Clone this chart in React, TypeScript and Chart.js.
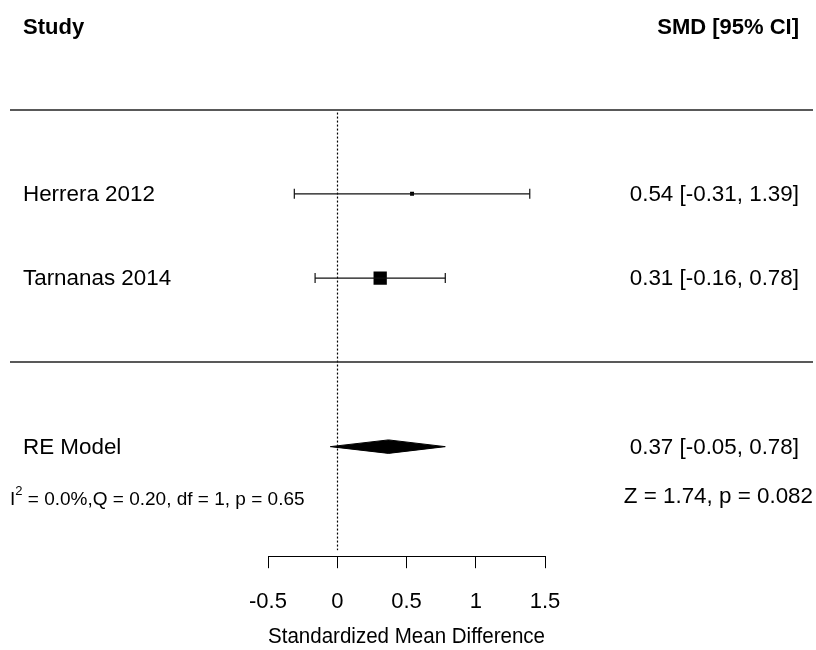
import { useEffect, useRef } from 'react';
import { Chart, registerables } from 'chart.js';

Chart.register(...registerables);

// ---- data ----
const studies = ['Herrera 2012', 'Tarnanas 2014'];
const estimates = [0.54, 0.31];
const lowers = [-0.31, -0.16];
const uppers = [1.39, 0.78];
const studyRows = [2, 1];

const pooledLabel = 'RE Model';
const pooledEstimate = 0.37;
const pooledLower = -0.05;
const pooledUpper = 0.78;
const pooledRow = -1;

const hetI2 = '0.0%';
const hetQ = '0.20';
const hetDf = '1';
const hetP = '0.65';
const zText = 'Z = 1.74, p = 0.082';

const xTicks = [-0.5, 0, 0.5, 1, 1.5];
const xTitle = 'Standardized Mean Difference';
const headerLeft = 'Study';
const headerRight = 'SMD [95% CI]';

// ---- style ----
const FONT = '"Liberation Sans", Arial, Helvetica, sans-serif';
const squareRadius = [2.8, 9.4];
const diamondHalf = 0.08; // in row units
const headerRow = 4;
const topLineRow = 3;
const sepRow = 0;
const hetRow = -1.63;

const fmt = (v: number) => v.toFixed(2);

const forestPlugin = {
  id: 'forestDecor',
  beforeDatasetsDraw(chart: any) {
    const { ctx, scales } = chart;
    const x0 = scales.x.getPixelForValue(0);
    const yTop = scales.y.getPixelForValue(topLineRow) + 3;
    const yBot = chart.chartArea.bottom - 6;
    ctx.save();
    ctx.strokeStyle = '#000';
    ctx.lineWidth = 1.2;
    ctx.setLineDash([2, 2]);
    ctx.beginPath();
    ctx.moveTo(Math.round(x0) + 0.5, yTop);
    ctx.lineTo(Math.round(x0) + 0.5, yBot);
    ctx.stroke();
    ctx.restore();
  },
  afterDraw(chart: any) {
    const { ctx, scales, width } = chart;
    const y = (r: number) => scales.y.getPixelForValue(r);
    ctx.save();
    // separators
    ctx.strokeStyle = '#222';
    ctx.lineWidth = 1.5;
    [topLineRow, sepRow].forEach((r) => {
      const py = Math.round(y(r));
      ctx.beginPath();
      ctx.moveTo(10, py);
      ctx.lineTo(width - 3, py);
      ctx.stroke();
    });
    ctx.fillStyle = '#000';
    ctx.textBaseline = 'middle';
    // headers
    ctx.font = `bold 22px ${FONT}`;
    ctx.textAlign = 'left';
    ctx.fillText(headerLeft, 23, y(headerRow) + 3);
    ctx.textAlign = 'right';
    ctx.fillText(headerRight, 799, y(headerRow) + 3);
    // study rows
    ctx.font = `22.4px ${FONT}`;
    studies.forEach((s, i) => {
      ctx.textAlign = 'left';
      ctx.fillText(s, 23, y(studyRows[i]) + 1);
      ctx.textAlign = 'right';
      ctx.fillText(`${fmt(estimates[i])} [${fmt(lowers[i])}, ${fmt(uppers[i])}]`, 799, y(studyRows[i]) + 1);
    });
    // pooled
    ctx.textAlign = 'left';
    ctx.fillText(pooledLabel, 23, y(pooledRow) + 1);
    ctx.textAlign = 'right';
    ctx.fillText(`${fmt(pooledEstimate)} [${fmt(pooledLower)}, ${fmt(pooledUpper)}]`, 799, y(pooledRow) + 1);
    ctx.fillText(zText, 813, y(hetRow) - 3);
    // heterogeneity
    ctx.textAlign = 'left';
    ctx.font = `19px ${FONT}`;
    const hy = y(hetRow);
    ctx.fillText('I', 10, hy);
    const iw = ctx.measureText('I').width;
    ctx.font = `13px ${FONT}`;
    ctx.fillText('2', 10 + iw, hy - 8);
    const sw = ctx.measureText('2').width;
    ctx.font = `19px ${FONT}`;
    ctx.fillText(` = ${hetI2},Q = ${hetQ}, df = ${hetDf}, p = ${hetP}`, 10 + iw + sw, hy);
    ctx.restore();
  },
};

export default function App() {
  const ref = useRef<HTMLCanvasElement>(null);
  useEffect(() => {
    if (!ref.current) return;
    Chart.defaults.font.family = FONT;
    const ciSets = studies.map((s, i) => ({
      label: s + ' CI',
      data: [
        { x: lowers[i], y: studyRows[i] },
        { x: uppers[i], y: studyRows[i] },
      ],
      showLine: true,
      borderColor: '#111',
      borderWidth: 1.2,
      pointStyle: 'line',
      rotation: 90,
      pointRadius: 5,
      pointBorderColor: '#111',
      pointBorderWidth: 1.2,
    }));
    const pointsSet = {
      label: 'estimates',
      data: estimates.map((e, i) => ({ x: e, y: studyRows[i] })),
      pointStyle: 'rect',
      pointRadius: squareRadius,
      backgroundColor: '#000',
      borderColor: '#000',
      pointBorderWidth: 0,
    };
    const diamondSet = {
      label: 'pooled',
      data: [
        { x: pooledLower, y: pooledRow },
        { x: pooledEstimate, y: pooledRow + diamondHalf },
        { x: pooledUpper, y: pooledRow },
        { x: pooledEstimate, y: pooledRow - diamondHalf },
        { x: pooledLower, y: pooledRow },
      ],
      showLine: true,
      fill: 'shape',
      backgroundColor: '#000',
      borderColor: '#000',
      borderWidth: 1,
      pointRadius: 0,
      tension: 0,
    };
    const chart = new Chart(ref.current, {
      type: 'scatter',
      data: { datasets: [...ciSets, pointsSet, diamondSet] as any },
      options: {
        responsive: false,
        animation: false,
        layout: { autoPadding: false, padding: { left: 268, right: 271, top: 0, bottom: 0 } },
        plugins: { legend: { display: false }, tooltip: { enabled: false } },
        scales: {
          x: {
            type: 'linear',
            min: xTicks[0],
            max: xTicks[xTicks.length - 1],
            afterBuildTicks: (axis: any) => {
              axis.ticks = xTicks.map((v) => ({ value: v }));
            },
            ticks: {
              color: '#000',
              font: { size: 22 },
              padding: 21,
              callback: (v: any) => String(Number(v)),
            },
            grid: { drawOnChartArea: false, drawTicks: true, tickLength: 12, color: '#000', lineWidth: 1 },
            border: { display: true, color: '#000', width: 1 },
            title: { display: true, text: xTitle, color: '#000', font: { size: 22 }, padding: { top: -13, bottom: 0 } },
          },
          y: { type: 'linear', display: false, min: -2.3, max: 4.3 },
        },
      },
      plugins: [forestPlugin],
    });
    return () => chart.destroy();
  }, []);
  return (
    <div style={{ position: 'fixed', left: 0, top: 0, width: 816, height: 650, background: '#fff' }}>
      <canvas ref={ref} width={816} height={650} />
    </div>
  );
}
